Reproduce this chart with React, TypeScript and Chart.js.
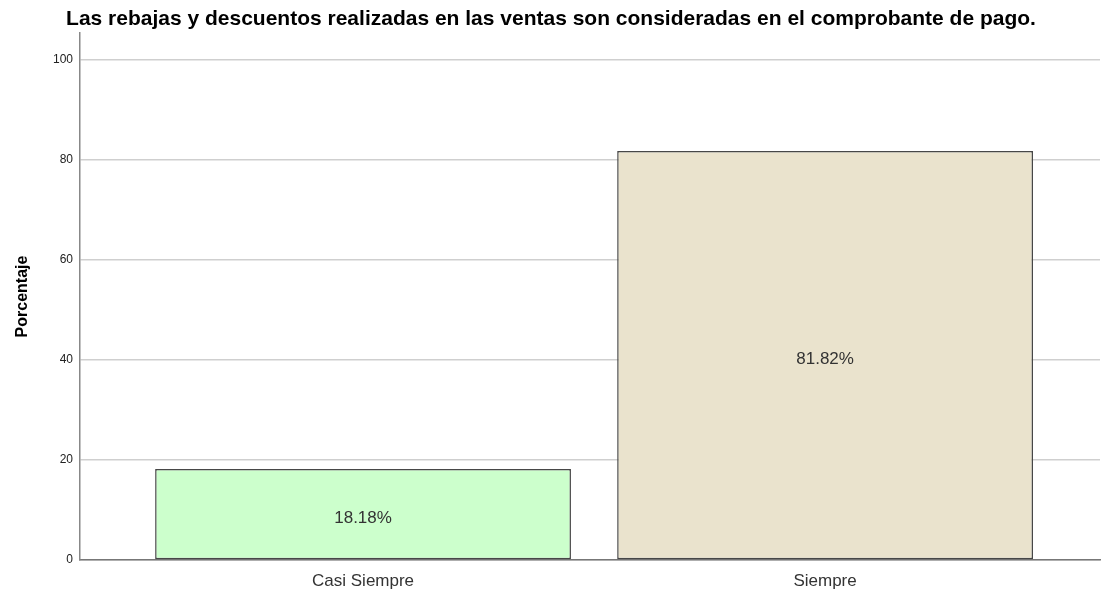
import React, { useEffect, useRef } from "react";
import { Chart, registerables } from "chart.js";

Chart.register(...registerables);

const TITLE = "Las rebajas y descuentos realizadas en las ventas son consideradas en el comprobante de pago.";
const CATEGORIES = ["Casi Siempre", "Siempre"];
const PERCENTAGES = [18.18, 81.82];
const VALUE_LABELS = ["18.18%", "81.82%"];
const BAR_COLORS = ["#CCFFCC", "#EAE3CD"];
const Y_TICKS = [0, 20, 40, 60, 80, 100];
const Y_TITLE = "Porcentaje";

const FONT = "'Liberation Sans', Arial, sans-serif";

const titlePlugin = {
  id: "customTitle",
  afterDraw(chart: any) {
    const ctx = chart.ctx;
    ctx.save();
    ctx.font = `bold 21px ${FONT}`;
    ctx.fillStyle = "#000";
    ctx.textAlign = "center";
    ctx.textBaseline = "alphabetic";
    ctx.fillText(TITLE, chart.width / 2, 25);
    ctx.restore();
  },
};

const valueLabelPlugin = {
  id: "valueLabels",
  afterDatasetsDraw(chart: any) {
    const ctx = chart.ctx;
    const meta = chart.getDatasetMeta(0);
    ctx.save();
    ctx.font = `17px ${FONT}`;
    ctx.fillStyle = "#333";
    ctx.textAlign = "center";
    ctx.textBaseline = "middle";
    meta.data.forEach((bar: any, i: number) => {
      const y = (bar.y + bar.base) / 2 + 4;
      ctx.fillText(VALUE_LABELS[i], bar.x, y);
    });
    ctx.restore();
  },
};

export default function App() {
  const ref = useRef<HTMLCanvasElement>(null);
  useEffect(() => {
    const chart = new Chart(ref.current as HTMLCanvasElement, {
      type: "bar",
      data: {
        datasets: [
          {
            data: PERCENTAGES.map((v, i) => ({ x: i + 1, y: v })),
            backgroundColor: BAR_COLORS,
            borderColor: "#474747",
            borderWidth: 1.5,
            borderSkipped: false,
            barPercentage: 0.9,
            categoryPercentage: 1,
          },
        ],
      },
      options: {
        animation: false,
        responsive: true,
        maintainAspectRatio: false,
        layout: { padding: { top: 33, right: 2, left: 0, bottom: 0 } },
        plugins: {
          legend: { display: false },
          tooltip: { enabled: false },
          title: { display: false },
        },
        scales: {
          x: {
            type: "linear",
            offset: false,
            min: 0.3874,
            max: 2.595,
            grid: { display: false, drawTicks: false },
            border: { color: "#777", width: 1.5 },
            afterBuildTicks: (scale: any) => {
              scale.ticks = CATEGORIES.map((_, i) => ({ value: i + 1 }));
            },
            afterFit: (scale: any) => {
              scale.height = 36;
            },
            ticks: {
              padding: 11,
              color: "#333",
              font: { family: FONT, size: 17 },
              callback: (v: any) => CATEGORIES[Number(v) - 1] ?? "",
              maxRotation: 0,
            },
          },
          y: {
            type: "linear",
            min: 0,
            max: 105.4,
            afterBuildTicks: (scale: any) => {
              scale.ticks = Y_TICKS.map((v) => ({ value: v }));
            },
            afterFit: (scale: any) => {
              scale.width = 80;
            },
            grid: { color: "#cfcfcf", lineWidth: 1.5, drawTicks: false },
            border: { color: "#888", width: 1.5 },
            ticks: {
              padding: 7,
              color: "#222",
              font: { family: FONT, size: 12 },
            },
            title: {
              display: true,
              text: Y_TITLE,
              color: "#000",
              font: { family: FONT, size: 16, weight: "bold" },
              padding: { top: 13, bottom: 0 },
            },
          },
        },
      },
      plugins: [titlePlugin, valueLabelPlugin],
    } as any);
    return () => chart.destroy();
  }, []);
  return (
    <div style={{ position: "fixed", left: 0, top: 0, width: 1102, height: 596, background: "#fff" }}>
      <canvas ref={ref} />
    </div>
  );
}
